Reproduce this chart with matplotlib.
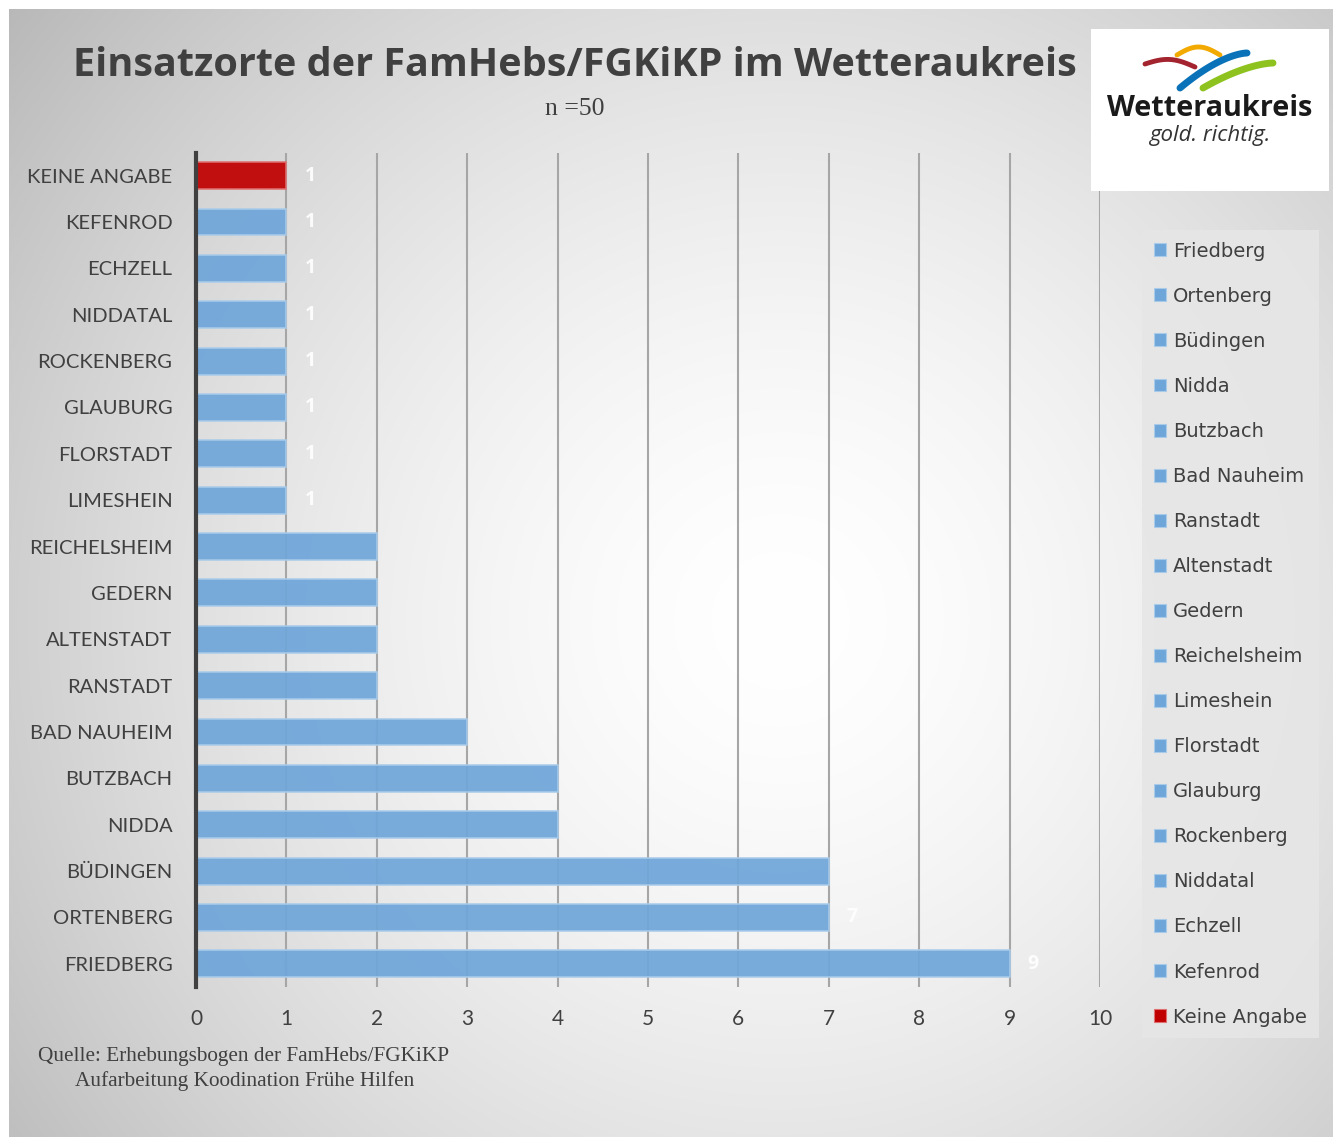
import numpy as np
import matplotlib
matplotlib.use("Agg")
import matplotlib.pyplot as plt
from matplotlib.patches import Patch

# ---- data ----
categories = ["FRIEDBERG", "ORTENBERG", "BÜDINGEN", "NIDDA", "BUTZBACH", "BAD NAUHEIM",
              "RANSTADT", "ALTENSTADT", "GEDERN", "REICHELSHEIM", "LIMESHEIN", "FLORSTADT",
              "GLAUBURG", "ROCKENBERG", "NIDDATAL", "ECHZELL", "KEFENROD", "KEINE ANGABE"]
legend_labels = ["Friedberg", "Ortenberg", "Büdingen", "Nidda", "Butzbach", "Bad Nauheim",
                 "Ranstadt", "Altenstadt", "Gedern", "Reichelsheim", "Limeshein", "Florstadt",
                 "Glauburg", "Rockenberg", "Niddatal", "Echzell", "Kefenrod", "Keine Angabe"]
values = [9, 7, 7, 4, 4, 3, 2, 2, 2, 2, 1, 1, 1, 1, 1, 1, 1, 1]
# value labels visible in the reference (the others are not shown)
labelled = ["FRIEDBERG", "ORTENBERG", "LIMESHEIN", "FLORSTADT", "GLAUBURG", "ROCKENBERG",
            "NIDDATAL", "ECHZELL", "KEFENROD", "KEINE ANGABE"]
xticks = [0, 1, 2, 3, 4, 5, 6, 7, 8, 9, 10]

title = "Einsatzorte der FamHebs/FGKiKP im Wetteraukreis"
subtitle = "n =50"
source = ["Quelle: Erhebungsbogen der FamHebs/FGKiKP", "Aufarbeitung Koodination Frühe Hilfen"]

W, H = 1339, 1139
fig = plt.figure(figsize=(W / 100, H / 100), dpi=100)
fig.patch.set_facecolor("white")

# ---- background panel with radial gradient ----
bg = fig.add_axes([9 / W, 1 - 1137 / H, (1333 - 9) / W, (1137 - 9) / H])
bg.set_axis_off()
yy, xx = np.mgrid[9:1137, 9:1333]
r = np.sqrt((xx - 780) ** 2 + (yy - 620) ** 2) / 900.0
v = 1 - 0.24 * np.clip(r, 0, 1.2) ** 1.6
v = np.clip(v, 0, 1)
bg.imshow(np.dstack([v, v, v]), aspect="auto", extent=[0, 1, 0, 1], interpolation="bilinear")
bg.set_xlim(0, 1); bg.set_ylim(0, 1)

# ---- main axes ----
ax_left, ax_right = 196, 1100
ax_top, ax_bot = 152.5, 987
ax = fig.add_axes([ax_left / W, 1 - ax_bot / H, (ax_right - ax_left) / W, (ax_bot - ax_top) / H])
ax.set_facecolor("none")
y = np.arange(len(categories))
colors = ["#6fa6d9"] * (len(categories) - 1) + ["#c00000"]
edges = ["#a9cbea"] * (len(categories) - 1) + ["#e07070"]
ax.barh(y, values, height=0.58, color=colors, edgecolor=edges, linewidth=1.2, alpha=0.93, zorder=3)
for yi, cat, val in zip(y, categories, values):
    if cat in labelled:
        ax.text(val + 0.2, yi, str(val), color="white", fontsize=14, fontweight="bold",
                va="center", ha="left", family="Open Sans", alpha=0.9, zorder=4)

ax.set_xlim(0, 10)
ax.set_ylim(-0.5, len(categories) - 0.5)
ax.set_xticks(xticks)
ax.set_yticks(y)
ax.set_yticklabels(categories)
ax.grid(axis="x", color="#a6a6a6", linewidth=1.5, zorder=1)
ax.set_axisbelow(True)
for s in ["top", "right", "bottom"]:
    ax.spines[s].set_visible(False)
ax.spines["left"].set_color("#404040")
ax.spines["left"].set_linewidth(3)
ax.spines["left"].set_zorder(5)
ax.tick_params(axis="x", length=0, pad=16, labelsize=15, labelcolor="#404040")
ax.tick_params(axis="y", length=0, pad=17, labelsize=14.5, labelcolor="#404040")
for lbl in ax.get_xticklabels():
    lbl.set_family("Lato")
for lbl in ax.get_yticklabels():
    lbl.set_family("Lato")

# ---- title ----
fig.text(575 / W, 1 - 65 / H, title, ha="center", va="center", fontsize=28.5,
         fontweight="bold", color="#404040", family="Open Sans")
fig.text(575 / W, 1 - 109 / H, subtitle, ha="center", va="center", fontsize=18.5,
         color="#404040", family="Liberation Serif")

# ---- source ----
fig.text(38 / W, 1 - 1057 / H, source[0], ha="left", va="center", fontsize=15.3,
         color="#404040", family="Liberation Serif")
fig.text(75 / W, 1 - 1081 / H, source[1], ha="left", va="center", fontsize=15.3,
         color="#404040", family="Liberation Serif")

# ---- legend ----
handles = [Patch(facecolor=c, edgecolor=e, linewidth=0.8) for c, e in zip(colors, edges)]
leg = fig.legend(handles, legend_labels, loc="upper left",
                 bbox_to_anchor=(1142 / W, 1 - 230 / H), frameon=True,
                 prop={"family": "DejaVu Sans", "size": 14}, labelcolor="#404040",
                 handlelength=0.65, handleheight=0.65, handletextpad=0.35,
                 labelspacing=1.34, borderpad=0.6, borderaxespad=0, fancybox=False)
leg.get_frame().set_facecolor("#e6e6e6")
leg.get_frame().set_edgecolor("none")
leg.get_frame().set_alpha(0.9)

# ---- logo ----
lg = fig.add_axes([1091 / W, 1 - 191 / H, (1329 - 1091) / W, (191 - 29) / H])
lg.set_xlim(0, 238); lg.set_ylim(162, 0)
lg.set_facecolor("white")
for s in lg.spines.values():
    s.set_visible(False)
lg.set_xticks([]); lg.set_yticks([])
t = np.linspace(0, 1, 60)
# red swoosh
lg.plot(54 + 50 * t, 35 + 3 * t - 6 * np.sin(np.pi * t), color="#a3242f", lw=3.5, solid_capstyle="round")
# orange arc
lg.plot(86 + 43 * t, 26 - 8 * np.sin(np.pi * t), color="#f2a900", lw=3.5, solid_capstyle="round")
# blue swoosh
lg.plot(89 + 67 * t, 59 - 35 * (1 - (1 - t) ** 1.6), color="#0a72b9", lw=5, solid_capstyle="round")
# green swoosh
lg.plot(112 + 70 * t, 59 - 25 * (1 - (1 - t) ** 1.6), color="#8ec21f", lw=5, solid_capstyle="round")
lg.text(119, 80, "Wetteraukreis", ha="center", va="center", fontsize=20.8,
        fontweight="bold", color="#1a1a1a", family="Open Sans")
lg.text(119, 106, "gold. richtig.", ha="center", va="center", fontsize=16,
        style="italic", color="#333333", family="Open Sans")

fig.savefig("out.png", dpi=100)
